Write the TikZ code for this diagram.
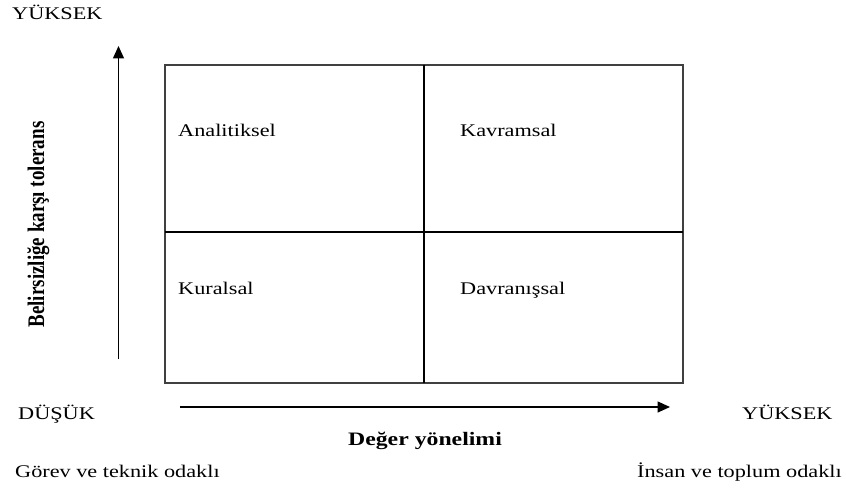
\documentclass[tikz,border=0pt]{standalone}
\usepackage{fontspec}
\usepackage{graphicx}
\setmainfont[FakeStretch=1.25]{Liberation Serif}
\newfontfamily\plainserif{Liberation Serif}
\usetikzlibrary{arrows.meta}
\begin{document}
\begin{tikzpicture}[x=1pt,y=-1pt,
  txt/.style={inner sep=0pt, anchor=base west, font=\fontsize{17.8}{20}\selectfont},
  boldtxt/.style={inner sep=0pt, font=\bfseries\fontsize{19}{22}\selectfont},
  frame/.style={draw=black!75, line width=1.3pt, inner sep=0pt},
  divider/.style={draw=black, line width=1.3pt},
  axis/.style={draw=black, line width=1.5pt, -{Triangle[length=12.5pt,width=11pt]}}]
\useasboundingbox (0,0) rectangle (846,495);
% frame
\node[frame, minimum width=518pt, minimum height=318pt] (box) at (424,224) {};
\coordinate (vtop) at (424,65);
\coordinate (vbot) at (424,383);
\coordinate (hleft) at (165,232);
\coordinate (hright) at (683,232);
\draw[divider] (vtop) -- (vbot);
\draw[divider] (hleft) -- (hright);
% quadrant labels
\node[txt] (analitik) at (178,136.5) {Analitiksel};
\node[txt] (kavram) at (460,136.5) {Kavramsal};
\node[txt] (kural) at (178,294) {Kuralsal};
\node[txt] (davran) at (460,294) {Davranışsal};
% axes
\coordinate (ybot) at (118.5,359);
\coordinate (ytop) at (118.5,46);
\draw[axis] (ybot) -- (ytop);
\coordinate (xleft) at (180,407);
\coordinate (xright) at (670,407);
\draw[axis] (xleft) -- (xright);
% axis texts
\node[txt] (yhigh) at (12,20) {YÜKSEK};
\node[txt] (xlow) at (18,419.5) {DÜŞÜK};
\node[txt] (xhigh) at (742,419.5) {YÜKSEK};
\node[boldtxt, anchor=base] (xlab) at (425,445) {Değer yönelimi};
\node[boldtxt, rotate=90, font=\plainserif\bfseries\fontsize{19}{22}\selectfont] (ylab) at (38.5,224.5) {\scalebox{1}[1.25]{Belirsizliğe karşı tolerans}};
\node[txt] (gorev) at (15,477) {Görev ve teknik odaklı};
\node[txt] (insan) at (637,477) {İnsan ve toplum odaklı};
\end{tikzpicture}
\end{document}
